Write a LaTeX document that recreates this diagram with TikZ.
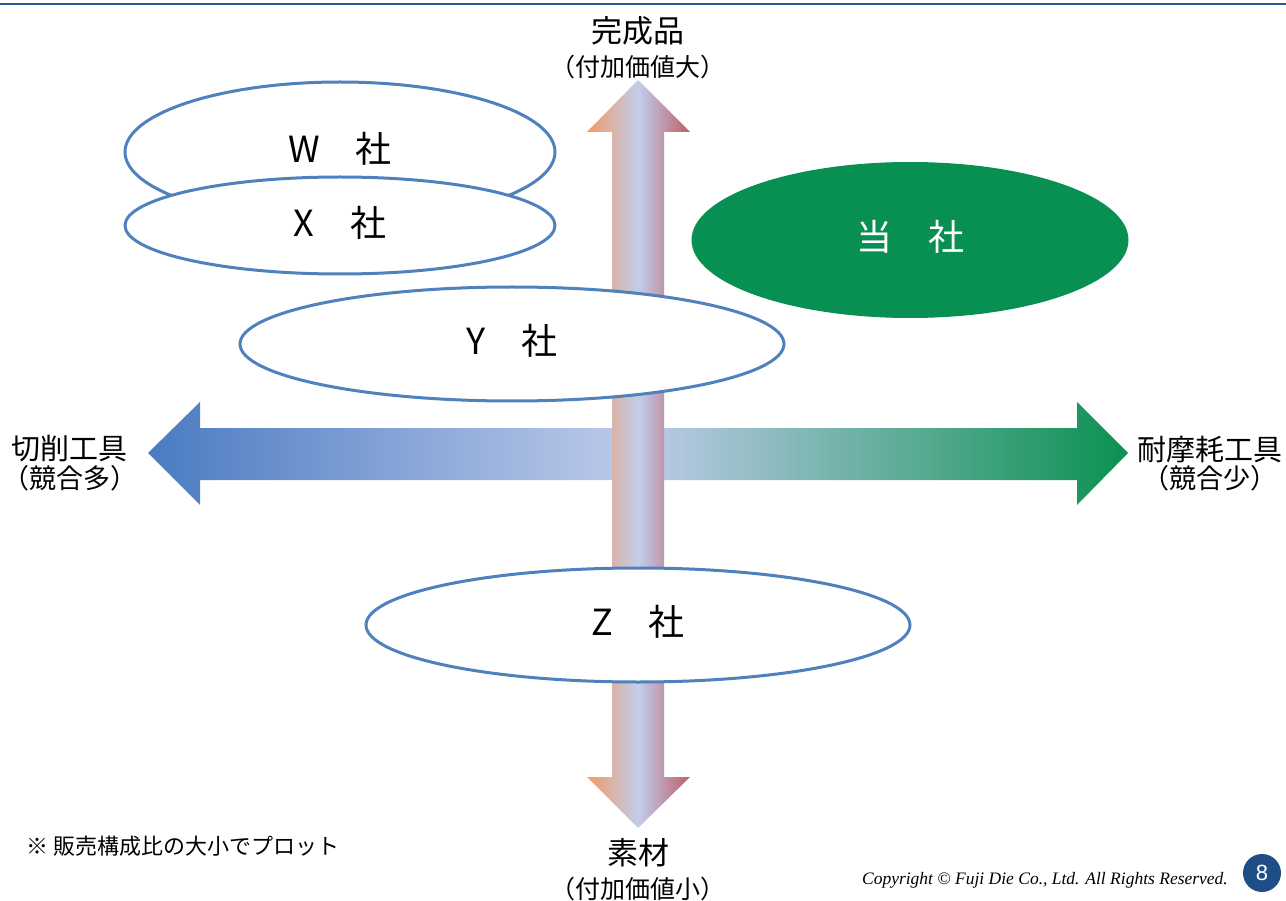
\documentclass[tikz,border=0pt]{standalone}
\usepackage{fontspec}
\setmainfont{Noto Sans CJK JP}
\newfontfamily\copyfont{Liberation Serif}
\newfontfamily\badgefont{Liberation Sans}
\usetikzlibrary{shapes.geometric}
\definecolor{ebl}{HTML}{4F81BD}
\definecolor{topblue}{HTML}{2F5496}
\definecolor{hleft}{HTML}{4A7BC2}
\definecolor{hmid}{HTML}{BFCBEA}
\definecolor{hright}{HTML}{0A9150}
\definecolor{vleft}{HTML}{F09A68}
\definecolor{vmid}{HTML}{C2CDEB}
\definecolor{vright}{HTML}{BC5E68}
\definecolor{ourgreen}{HTML}{079052}
\definecolor{badge}{HTML}{1F4E87}
\newcommand{\complbl}[1]{\raisebox{-10.7pt}[0pt][0pt]{#1}}
\begin{document}
\begin{tikzpicture}[x=1pt,y=-1pt,
  company/.style={ellipse, draw=ebl, line width=3pt, fill=white, inner sep=0pt,
    font=\fontsize{36}{40}\selectfont},
  axisbig/.style={inner sep=0pt, font=\fontsize{31}{34}\selectfont},
  axissmall/.style={inner sep=0pt, font=\fontsize{25}{28}\selectfont}]
\useasboundingbox (0,0) rectangle (1286,901);
\fill[white] (0,0) rectangle (1286,901);
\draw[topblue, line width=2.5pt] (0,4) -- (1286,4);
% horizontal double arrow
\shade[left color=hleft, right color=hright, middle color=hmid]
  (148,453) -- (200,402) -- (200,428) -- (1077,428) -- (1077,402) -- (1128,453)
  -- (1077,505) -- (1077,480) -- (200,480) -- (200,505) -- cycle;
% vertical double arrow
\shade[left color=vleft, right color=vright, middle color=vmid]
  (638,80) -- (690,132) -- (664,132) -- (664,777) -- (690,777) -- (638,828)
  -- (587,777) -- (612,777) -- (612,132) -- (587,132) -- cycle;
% companies
\node[company, minimum width=430pt, minimum height=140pt] (W) at (340,152) {\complbl{W　社}};
\node[company, minimum width=430pt, minimum height=97pt] (X) at (340,225.5) {\complbl{X　社}};
\node[company, minimum width=544pt, minimum height=114pt] (Y) at (512,344) {\complbl{Y　社}};
\node[company, minimum width=544pt, minimum height=114pt] (Z) at (638,625) {\complbl{Z　社}};
\node[company, draw=none, fill=ourgreen, text=white, minimum width=437pt, minimum height=156pt] (us) at (910,240) {\complbl{当　社}};
% axis labels
\node[axisbig] (top1) at (638,31) {完成品};
\node[axissmall] (top2) at (638,67) {（付加価値大）};
\node[axisbig] (bot1) at (638,853) {素材};
\node[axissmall] (bot2) at (638,889) {（付加価値小）};
\node[axisbig, font=\fontsize{29}{32}\selectfont] (l1) at (70,449) {切削工具};
\node[axissmall, font=\fontsize{27}{30}\selectfont] (l2) at (70,478) {（競合多）};
\node[axisbig, font=\fontsize{29}{32}\selectfont] (r1) at (1210,450) {耐摩耗工具};
\node[axissmall, font=\fontsize{27}{30}\selectfont] (r2) at (1210,478) {（競合少）};
% footnotes
\node[anchor=west, inner sep=0pt, font=\fontsize{22}{25}\selectfont] (note) at (26,846) {※ 販売構成比の大小でプロット};
\node[anchor=east, inner sep=0pt, font=\copyfont\itshape\fontsize{17.5}{20}\selectfont] (copy) at (1228,880) {Copyright © Fuji Die Co., Ltd. All Rights Reserved.};
\node[circle, fill=badge, minimum size=38pt, inner sep=0pt, text=white, font=\badgefont\fontsize{22}{24}\selectfont] (pg) at (1262,873) {8};
\end{tikzpicture}
\end{document}
